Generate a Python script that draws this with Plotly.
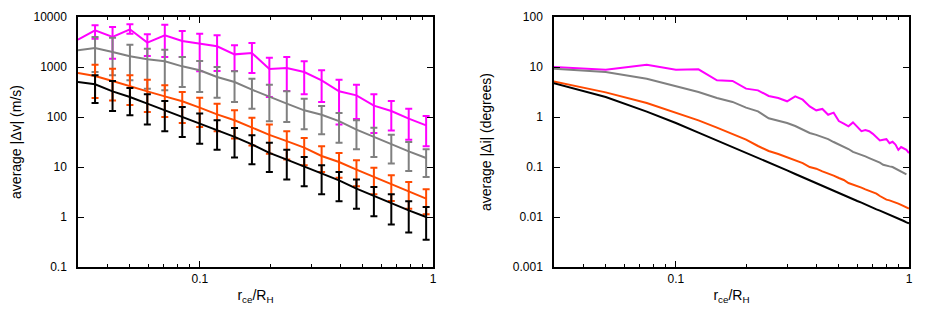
import plotly.graph_objects as go

# left panel: binned r_ce/R_H (first value sits on the left border, no error bar there)
x_dv = [0.030, 0.0355, 0.0422, 0.0501, 0.0595, 0.0707, 0.0840, 0.0998, 0.1185, 0.1408,
        0.1672, 0.1986, 0.2359, 0.2802, 0.3328, 0.3953, 0.4695, 0.5577, 0.6624, 0.7868, 0.9345]

dv_magenta = [3520, 5410, 3980, 5670, 3070, 4300, 3310, 2930, 2590, 1790, 1900,
              912, 955, 794, 541, 326, 271, 169, 132, 93, 68]
dv_magenta_hi = [6810, 6310, 7130, 4500, 7030, 5250, 4640, 4300, 2710, 3020,
                 1537, 1585, 1298, 858, 558, 443, 284, 209, 147, 105]
dv_magenta_lo = [3690, 1468, 4640, 1660, 1585, 1585, 819, 832, 832, 759,
                 251, 331, 284, 200, 71, 91, 48, 54, 35, 26]

dv_gray = [2150, 2400, 2000, 1635, 1425, 1298, 1031, 858, 631, 501, 352,
           251, 185, 136, 111, 83, 56, 40, 28.4, 20.6, 15.1]
dv_gray_hi = [3980, 3860, 2800, 2330, 2220, 1585, 1318, 1000, 819, 584,
              443, 326, 233, 166, 120, 86, 61, 44, 31.6, 22.6]
dv_gray_lo = [794, 681, 541, 369, 341, 398, 316, 244, 200, 147,
              82, 79, 57, 45, 30.7, 22.6, 15.8, 11.7, 8.3, 6.3]

dv_orange = [759, 661, 525, 410, 326, 259, 206, 154, 113, 86, 61,
             44, 33, 24.4, 16.6, 12.6, 8.85, 6.3, 4.5, 3.3, 2.33]
dv_orange_hi = [1113, 926, 681, 558, 430, 316, 244, 185, 136, 97,
                71, 52, 38, 25.9, 19.1, 13.6, 9.7, 6.8, 5.0, 3.6]
dv_orange_lo = [240, 215, 174, 126, 100, 76, 63, 52, 37, 27,
                18.5, 14.2, 10.8, 7.9, 6.1, 4.1, 2.84, 2.09, 1.47, 1.13]

dv_black = [501, 450, 326, 251, 185, 136, 100, 76, 56, 40, 28.4,
            19.1, 14.0, 10.3, 7.4, 5.4, 3.7, 2.7, 1.9, 1.36, 1.0]
dv_black_hi = [681, 525, 380, 284, 209, 158, 117, 86, 60, 43,
               30.7, 22.2, 15.8, 10.8, 7.9, 5.6, 4.0, 2.84, 2.06, 1.58]
dv_black_lo = [191, 132, 108, 71, 52, 40, 29.3, 22.2, 15.4, 11.3,
               7.9, 5.6, 4.1, 2.84, 2.06, 1.47, 1.03, 0.71, 0.49, 0.35]

# right panel
x_di = [0.025, 0.05, 0.075, 0.1, 0.125, 0.15, 0.175, 0.2, 0.225, 0.25,
        0.275, 0.3, 0.325, 0.35, 0.375, 0.4, 0.425, 0.45, 0.475, 0.5,
        0.525, 0.55, 0.575, 0.6, 0.625, 0.65, 0.675, 0.7, 0.725, 0.75,
        0.775, 0.8, 0.825, 0.85, 0.875, 0.9, 0.925, 0.95, 0.975, 1.0]

di_magenta = [10.5, 8.85, 11.1, 8.85, 8.99, 5.41, 5.25, 3.69, 3.41, 2.63,
              2.40, 2.06, 2.59, 2.22, 1.63, 1.36, 1.45, 1.11, 1.22, 0.83,
              0.74, 0.65, 0.78, 0.63, 0.52, 0.55, 0.52, 0.46, 0.40, 0.34,
              0.35, 0.36, 0.30, 0.32, 0.28, 0.22, 0.25, 0.23, 0.22, 0.19]
di_gray = [9.70, 7.94, 5.84, 4.11, 3.16, 2.40, 2.0, 1.54, 1.30, 0.94,
           0.845, 0.76, 0.66, 0.56, 0.48, 0.44, 0.40, 0.36, 0.316, 0.284,
           0.251, 0.229, 0.200, 0.188, 0.176, 0.163, 0.151, 0.142, 0.132, 0.122,
           0.111, 0.105, 0.103, 0.100, 0.0926, 0.0858, 0.0807, 0.0759, 0.0714]
di_orange = [6.12, 3.11, 1.91, 1.22, 0.858, 0.612, 0.450, 0.352, 0.263, 0.209,
             0.182, 0.158, 0.138, 0.120, 0.100, 0.0926, 0.0819, 0.0747, 0.0671, 0.0603,
             0.0550, 0.0479, 0.0450, 0.0423, 0.0386, 0.0357, 0.0336, 0.0316, 0.0293, 0.0263,
             0.0240, 0.0222, 0.0215, 0.0206, 0.0196, 0.0185, 0.0174, 0.0163, 0.0154, 0.0147]
di_black = [5.93, 2.51, 1.28, 0.759, 0.486, 0.341, 0.251, 0.194, 0.151, 0.124,
            0.1016, 0.0858, 0.0724, 0.0621, 0.0541, 0.0479, 0.0417, 0.0374, 0.0336, 0.0302,
            0.0275, 0.0251, 0.0229, 0.0209, 0.0194, 0.0177, 0.0166, 0.0154, 0.0142, 0.0134,
            0.0126, 0.0117, 0.0110, 0.0103, 0.00985, 0.00926, 0.00871, 0.00832, 0.00782, 0.00747]

x_minor = [0.04, 0.05, 0.06, 0.07, 0.08, 0.09, 0.2, 0.3, 0.4, 0.5, 0.6, 0.7, 0.8, 0.9]

MAGENTA = "#ff00ff"
GRAY = "#808080"
ORANGE = "#ff4a00"
BLACK = "#000000"
FONT = "Liberation Sans"

fig = go.Figure()

left = [(dv_magenta, dv_magenta_hi, dv_magenta_lo, MAGENTA),
        (dv_gray, dv_gray_hi, dv_gray_lo, GRAY),
        (dv_orange, dv_orange_hi, dv_orange_lo, ORANGE),
        (dv_black, dv_black_hi, dv_black_lo, BLACK)]

for y, hi, lo, col in left:
    fig.add_trace(go.Scatter(x=x_dv, y=y, mode="lines", line=dict(color=col, width=2),
                             xaxis="x", yaxis="y", showlegend=False))
    mean = y[1:]
    fig.add_trace(go.Scatter(
        x=x_dv[1:], y=mean, mode="markers", marker=dict(size=1, color=col, opacity=0),
        error_y=dict(type="data", symmetric=False,
                     array=[h - m for h, m in zip(hi, mean)],
                     arrayminus=[m - l for m, l in zip(mean, lo)],
                     color=col, thickness=2, width=3.5),
        xaxis="x", yaxis="y", showlegend=False))

for y, col in [(di_magenta, MAGENTA), (di_gray, GRAY), (di_orange, ORANGE), (di_black, BLACK)]:
    fig.add_trace(go.Scatter(x=x_di[:len(y)], y=y, mode="lines", line=dict(color=col, width=2),
                             xaxis="x2", yaxis="y2", showlegend=False))

xcommon = dict(type="log", range=[-1.5229, 0], tickvals=[0.1, 1], ticktext=["0.1", "1"],
               ticks="inside", ticklen=6, tickwidth=1, tickcolor="black",
               minor=dict(tickvals=x_minor, ticks="inside", ticklen=3, tickcolor="black", tickwidth=1),
               showline=True, linecolor="black", linewidth=1.5, mirror="ticks",
               showgrid=False, zeroline=False, ticklabelstandoff=0, automargin=False,
               tickfont=dict(family=FONT, size=12, color="black"),
               title=dict(text="r<sub>ce</sub>/R<sub>H</sub>", font=dict(family=FONT, size=14, color="black"),
                          standoff=5))
ycommon = dict(type="log", ticks="inside", ticklen=6, tickwidth=1, tickcolor="black",
               showline=True, linecolor="black", linewidth=1.5, mirror="ticks",
               showgrid=False, zeroline=False, ticklabelstandoff=7, automargin=False,
               tickfont=dict(family=FONT, size=12, color="black"))

# page body keeps an 8px margin, so the figure is 16px smaller than the window
fig.update_layout(
    width=918, height=305,
    margin=dict(l=70, r=17, t=9, b=46),
    plot_bgcolor="white", paper_bgcolor="white",
    xaxis=dict(xcommon, domain=[0.0, 0.4272], anchor="y"),
    yaxis=dict(ycommon, domain=[0, 1], anchor="x", range=[-1, 4],
               tickvals=[0.1, 1, 10, 100, 1000, 10000],
               ticktext=["0.1", "1", "10", "100", "1000", "10000"],
               title=dict(text="average |Δv| (m/s)", font=dict(family=FONT, size=14, color="black"),
                          standoff=21)),
    xaxis2=dict(xcommon, domain=[0.5728, 1.0], anchor="y2"),
    yaxis2=dict(ycommon, domain=[0, 1], anchor="x2", range=[-3, 2],
                tickvals=[0.001, 0.01, 0.1, 1, 10, 100],
                ticktext=["0.001", "0.01", "0.1", "1", "10", "100"],
                title=dict(text="average |Δi| (degrees)", font=dict(family=FONT, size=14, color="black"),
                           standoff=18)),
)

fig.write_html("out.html")
